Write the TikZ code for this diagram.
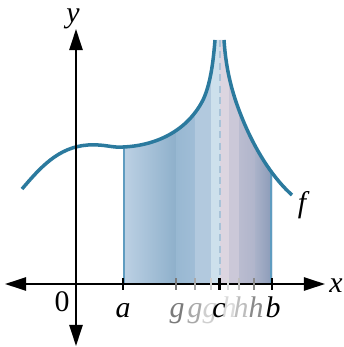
\documentclass[tikz,border=0pt]{standalone}
\usepackage{fontspec}
\setmainfont{Liberation Serif}
\usetikzlibrary{arrows.meta}
\definecolor{curvec}{HTML}{2B7A9E}
\definecolor{edgec}{HTML}{5F9CC0}
\definecolor{dashc}{HTML}{A9C3D8}
\definecolor{sA1}{HTML}{BDD1E4}
\definecolor{sA2}{HTML}{8EB0CB}
\definecolor{sB1}{HTML}{98B8D2}
\definecolor{sB2}{HTML}{A0BDD6}
\definecolor{sC}{HTML}{B2C9DE}
\definecolor{sD}{HTML}{CDE0EC}
\definecolor{sE}{HTML}{DCD5E0}
\definecolor{sF}{HTML}{CBC8D8}
\definecolor{sG1}{HTML}{BABCD0}
\definecolor{sG2}{HTML}{B0B5CB}
\definecolor{sH1}{HTML}{AAB2C9}
\definecolor{sH2}{HTML}{8B9BB8}
\definecolor{gA}{HTML}{7A7A7A}
\definecolor{gB}{HTML}{A8A8A8}
\definecolor{gC}{HTML}{CFCFCF}
\definecolor{hA}{HTML}{DADADA}
\definecolor{hB}{HTML}{BDBDBD}
\definecolor{hC}{HTML}{8A8A8A}
\tikzset{
  axis/.style={line width=1.2pt, black, {Triangle[length=12pt,width=7.5pt]}-{Triangle[length=12pt,width=7.5pt]}},
  tickmark/.style={line width=1.2pt},
  lab/.style={font=\fontsize{17}{17}\selectfont\itshape, anchor=base, inner sep=0pt},
  fcurve/.style={curvec, line width=2pt},
}
\newcommand{\leftbranch}{(22,189) .. controls (40,168) and (58,147) .. (88,145) .. controls (105,144) and (112,148) .. (123,147) .. controls (150,146) and (185,135) .. (203,100) .. controls (210,85) and (213,65) .. (215,40)}
\newcommand{\rightbranch}{(224,40) .. controls (226,70) and (232,95) .. (245,125) .. controls (258,155) and (275,180) .. (292,195)}
\begin{document}
\begin{tikzpicture}[x=0.02cm,y=-0.02cm]
\useasboundingbox (0,0) rectangle (343,347);
% shaded area
\begin{scope}
  \clip (123,0) rectangle (272,283);
  \clip (22,283) -- \leftbranch -- \rightbranch -- (292,283) -- cycle;
  \shade[left color=sA1, right color=sA2] (123,0) rectangle (176,283);
  \shade[left color=sB1, right color=sB2] (176,0) rectangle (195,283);
  \fill[sC] (195,0) rectangle (211,283);
  \fill[sD] (211,0) rectangle (220,283);
  \fill[sE] (220,0) rectangle (229,283);
  \fill[sF] (229,0) rectangle (239,283);
  \shade[left color=sG1, right color=sG2] (239,0) rectangle (255,283);
  \shade[left color=sH1, right color=sH2] (255,0) rectangle (272,283);
  \draw[edgec, line width=1.2pt] (123.5,0) -- (123.5,283);
  \draw[edgec, line width=1.2pt] (271.5,0) -- (271.5,283);
\end{scope}
% asymptote
\coordinate (ctop) at (220,40);
\coordinate (cbot) at (220,283);
\draw[dashc, line width=1.1pt, dash pattern=on 4pt off 2.5pt] (ctop) -- (cbot);
% curve
\draw[fcurve] \leftbranch;
\draw[fcurve] \rightbranch;
% axes
\coordinate (xl) at (5,284);
\coordinate (xr) at (325,284);
\coordinate (yt) at (76,29);
\coordinate (yb) at (76,346);
\draw[axis] (xl) -- (xr);
\draw[axis] (yb) -- (yt);
% ticks
\draw[tickmark, gA] (176,278) -- (176,290);
\draw[tickmark, gB] (195,278) -- (195,290);
\draw[tickmark, gC] (211,278) -- (211,290);
\draw[tickmark, hA] (228,278) -- (228,290);
\draw[tickmark, hB] (239,278) -- (239,290);
\draw[tickmark, hC] (254,278) -- (254,290);
\draw[tickmark, black] (123,278) -- (123,290);
\draw[tickmark, black] (219.5,278) -- (219.5,290);
\draw[tickmark, black] (272,278) -- (272,290);
% labels
\node[lab] (la) at (123,317) {a};
\node[lab, text=gA] (lg1) at (177,317) {g};
\node[lab, text=gB] (lg2) at (195,317) {g};
\node[lab, text=gC] (lg3) at (210,317) {g};
\node[lab, text=hA] (lh1) at (229,317) {h};
\node[lab, text=hB] (lh2) at (241,317) {h};
\node[lab, text=hC] (lh3) at (256,317) {h};
\node[lab] (lc) at (219,317) {c};
\node[lab] (lb) at (273,317) {b};
\node[lab] (lx) at (336,292) {x};
\node[lab] (ly) at (73,23) {y};
\node[lab] (lf) at (302,212) {f};
\node[lab, font=\fontsize{17}{17}\selectfont] (l0) at (62,311) {0};
\end{tikzpicture}
\end{document}
